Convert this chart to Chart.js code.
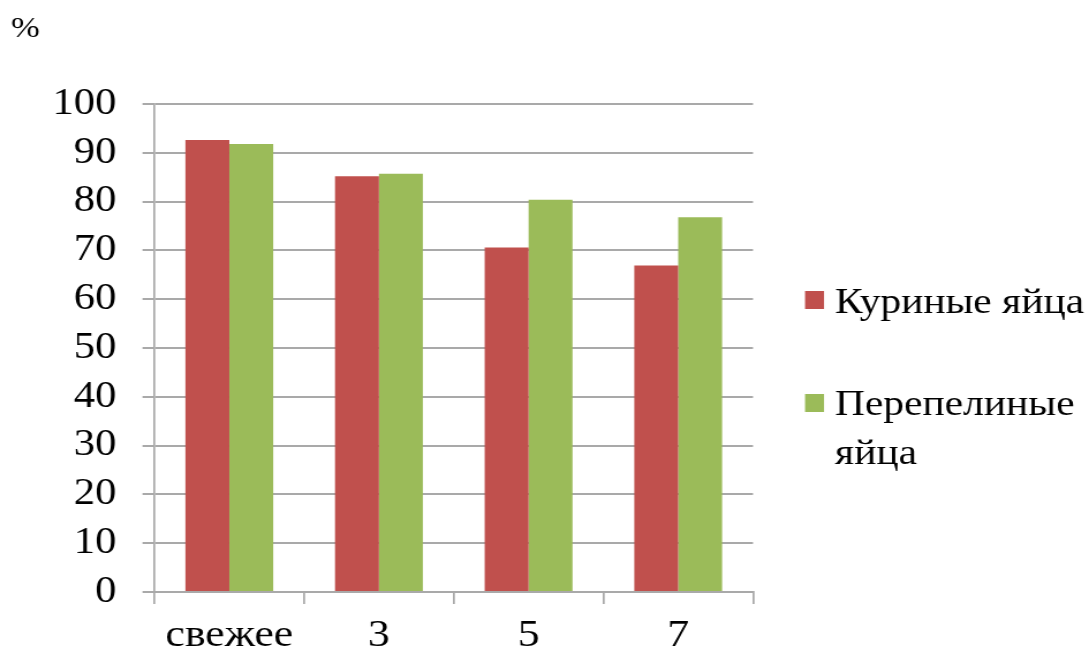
<!DOCTYPE html>
<html lang="ru">
<head>
<meta charset="utf-8">
<title>Куриные и перепелиные яйца</title>
<script src="https://cdn.jsdelivr.net/npm/chart.js@4.4.1/dist/chart.umd.min.js"></script>
<style>
  html, body { margin: 0; padding: 0; background: #fff; overflow: hidden; }
  #wrap { width: 945px; height: 655px; transform-origin: 0 0; }
</style>
</head>
<body>
<div id="wrap"><canvas id="chart" width="945" height="655" style="width:945px;height:655px"></canvas></div>
<script>
// Storage time categories and measured values (%)
const categories = ['свежее', '3', '5', '7'];
const chickenEggs = [92.6, 85.2, 70.6, 66.9];
const quailEggs = [91.8, 85.7, 80.4, 76.8];
const seriesNames = ['Куриные яйца', ['Перепелиные', 'яйца']];
const yTicks = [0, 10, 20, 30, 40, 50, 60, 70, 80, 90, 100];

// The drawing is laid out on a narrower canvas and widened with CSS,
// giving the broad serif lettering of the original figure.
const PAGE_W = 1089, CANVAS_W = 945;
const SX = PAGE_W / CANVAS_W;
document.getElementById('wrap').style.transform = 'scaleX(' + SX + ')';
const px = v => v / SX;

const FONT = '"Liberation Serif", "Times New Roman", serif';
const GRID = '#a9a9a9';
const COLORS = ['#C0504D', '#9BBB59'];

const PLOT_LEFT = 154.5, PLOT_RIGHT = 753, PLOT_TOP = 104, PLOT_BOTTOM = 592;

const sideLegend = {
  id: 'sideLegend',
  afterDraw(chart) {
    const ctx = chart.ctx;
    ctx.save();
    ctx.font = '36px ' + FONT;
    ctx.fillStyle = '#000';
    ctx.textBaseline = 'alphabetic';
    ctx.textAlign = 'left';
    const items = [
      { boxTop: 291, baseline: 313 },
      { boxTop: 394, baseline: 415 }
    ];
    chart.data.datasets.forEach((ds, i) => {
      const it = items[i];
      ctx.fillStyle = ds.backgroundColor;
      ctx.fillRect(px(805), it.boxTop, px(19), 18);
      ctx.fillStyle = '#000';
      const lines = Array.isArray(seriesNames[i]) ? seriesNames[i] : [seriesNames[i]];
      lines.forEach((t, k) => ctx.fillText(t, px(835), it.baseline + k * 49));
    });
    // unit label
    ctx.font = '30px ' + FONT;
    ctx.fillText('%', px(11), 37);
    ctx.restore();
  }
};

new Chart(document.getElementById('chart'), {
  type: 'bar',
  data: {
    labels: categories,
    datasets: [
      { label: 'Куриные яйца', data: chickenEggs, backgroundColor: COLORS[0] },
      { label: 'Перепелиные яйца', data: quailEggs, backgroundColor: COLORS[1] }
    ]
  },
  options: {
    responsive: false,
    animation: false,
    devicePixelRatio: 1,
    layout: { padding: { left: 0, top: PLOT_TOP, right: CANVAS_W - px(PLOT_RIGHT), bottom: 0 } },
    datasets: { bar: { categoryPercentage: 0.587, barPercentage: 1.0 } },
    plugins: { legend: { display: false }, tooltip: { enabled: false }, title: { display: false } },
    scales: {
      x: {
        grid: { offset: true, drawOnChartArea: false, drawTicks: true, tickLength: 12, color: GRID, lineWidth: px(2) },
        border: { display: true, color: GRID, width: 2 },
        ticks: { color: '#000', font: { family: FONT, size: 38 }, padding: 9, maxRotation: 0 },
        afterFit(scale) { scale.height = 655 - PLOT_BOTTOM; }
      },
      y: {
        min: 0, max: 100,
        afterBuildTicks(scale) { scale.ticks = yTicks.map(v => ({ value: v })); },
        grid: { color: GRID, lineWidth: 2, drawTicks: true, tickLength: px(12) },
        border: { display: true, color: GRID, width: px(2) },
        ticks: { color: '#000', font: { family: FONT, size: 37 }, padding: px(26) },
        afterFit(scale) { scale.width = px(PLOT_LEFT); }
      }
    }
  },
  plugins: [sideLegend]
});
</script>
</body>
</html>
